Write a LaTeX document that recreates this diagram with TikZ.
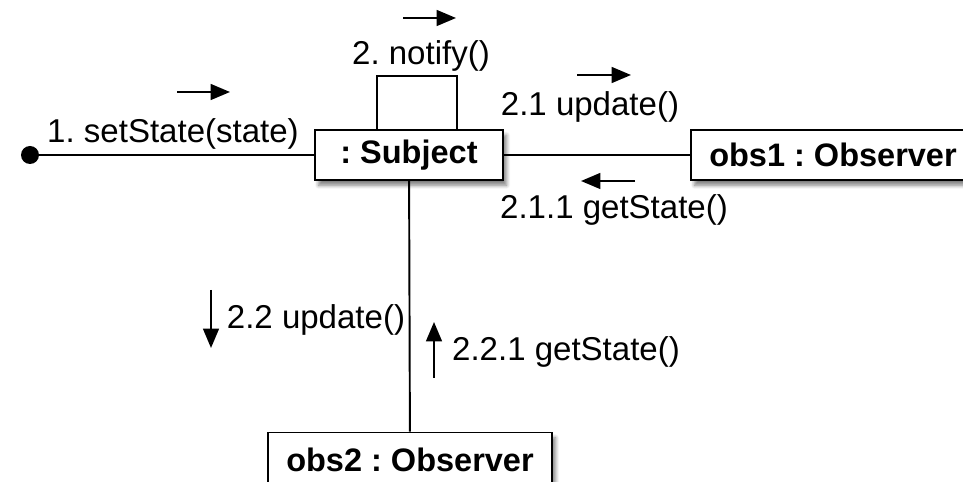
\documentclass[tikz,border=0pt]{standalone}
\usepackage{fontspec}
\setmainfont{Liberation Sans}
\frenchspacing
\usetikzlibrary{arrows.meta, shadows, shadows.blur, positioning}
\tikzset{
  obj/.style={draw, line width=1.1pt, fill=white, font=\fontsize{18.5}{20}\selectfont\bfseries,
    blur shadow={shadow blur steps=6, shadow xshift=2pt, shadow yshift=-3pt, shadow opacity=50},
    minimum height=1cm, inner sep=0pt},
  msg/.style={font=\fontsize{18.8}{20}\selectfont, inner sep=0pt},
  dir/.style={-{Triangle[length=11pt,width=9pt]}, line width=1.1pt}
}

\begin{document}
\begin{tikzpicture}[x=0.02cm, y=-0.02cm]
        \useasboundingbox (0,0) rectangle (963,482);
        \node[obj, minimum width=3.76cm] at (409,155) (subj) {: Subject};
        \node[obj, minimum width=5.68cm] at (833,155) (obs1) {obs1 : Observer};
        \node[obj, minimum width=5.68cm, minimum height=1.1cm] at (410,460) (obs2) {obs2 : Observer};
        \node[circle, fill, inner sep=0pt, minimum size=0.36cm] at (30,155) (start) {};

        \draw [line width=1.1pt] (start) -- (subj);
        \draw [line width=1.1pt] (subj) -- (obs1);
        \draw [line width=1.1pt] (subj) -- (obs2);
        \draw [line width=1.1pt] ([xshift=-0.64cm]subj.north) -- ++(0,1.06cm) -| ([xshift=0.96cm]subj.north);

        \node[msg] at (173,134) (m1)   {1. setState(state)};
        \node[msg] at (421,56)  (m2)   {2. notify()};
        \node[msg] at (590,107) (m21)  {2.1 update()};
        \node[msg] at (614,210) (m211) {2.1.1 getState()};
        \node[msg] at (316,320) (m22)  {2.2 update()};
        \node[msg] at (566,352) (m221) {2.2.1 getState()};

        \draw [dir] (177,92) -- (230,92);
        \draw [dir] (403,18) -- (456,18);
        \draw [dir] (577,75) -- (631,75);
        \draw [dir] (635,181) -- (581,181);
        \draw [dir] (211,290) -- (211,348);
        \draw [dir] (434,378) -- (434,322);
\end{tikzpicture}
\end{document}
